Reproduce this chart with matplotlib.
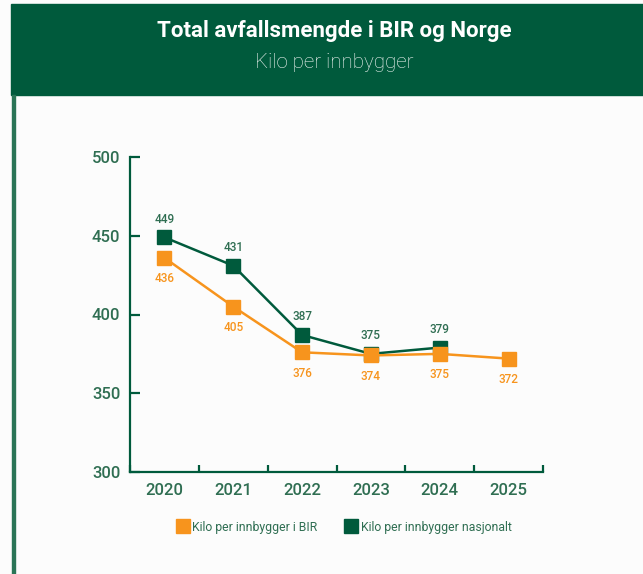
import matplotlib
matplotlib.use('Agg')
import matplotlib.pyplot as plt
from matplotlib.patches import Rectangle
from matplotlib.lines import Line2D

plt.rcParams['font.family'] = ['Roboto', 'DejaVu Sans']

years = ['2020', '2021', '2022', '2023', '2024', '2025']
bir = [436, 405, 376, 374, 375, 372]
norge = [449, 431, 387, 375, 379]
yticks = [300, 350, 400, 450, 500]

GREEN = '#005a3c'
ORANGE = '#f7941d'
TXT = '#2f6e52'

fig = plt.figure(figsize=(6.43, 5.74), dpi=100)
fig.patch.set_facecolor('#fcfcfc')

# header band and left border
fig.patches.append(Rectangle((11 / 643, 1 - 95 / 574), 1 - 11 / 643, 91 / 574,
                             transform=fig.transFigure, color=GREEN, zorder=0))
fig.patches.append(Rectangle((12 / 643, 0), 3 / 643, 1 - 95 / 574,
                             transform=fig.transFigure, color='#2a7456', zorder=0))
fig.text(334 / 643, 1 - 31 / 574, 'Total avfallsmengde i BIR og Norge', color='white',
         fontsize=16, fontweight='bold', ha='center', va='center')
fig.text(334 / 643, 1 - 62 / 574, 'Kilo per innbygger', color='#f2f6f4',
         fontsize=14.8, fontweight='light', ha='center', va='center')

ax = fig.add_axes([130 / 643, 1 - 472 / 574, 413 / 643, 315 / 574])
ax.set_facecolor('none')
x_bir = list(range(len(bir)))
x_norge = list(range(len(norge)))

ax.plot(x_norge, norge, color=GREEN, lw=1.8, marker='s', ms=10, mec=GREEN, mfc=GREEN,
        zorder=3)
ax.plot(x_bir, bir, color=ORANGE, lw=1.8, marker='s', ms=10, mec=ORANGE, mfc=ORANGE,
        zorder=4)

for i, v in enumerate(norge):
    ax.annotate(str(v), (i, v), xytext=(0, 13), textcoords='offset points',
                ha='center', va='center', fontsize=8.5, fontweight='medium', color=TXT)
for i, v in enumerate(bir):
    ax.annotate(str(v), (i, v), xytext=(0, -15), textcoords='offset points',
                ha='center', va='center', fontsize=8.5, fontweight='medium', color=ORANGE)

ax.set_xlim(-0.5, len(years) - 0.5)
ax.set_ylim(300, 500)
ax.set_yticks(yticks)
ax.set_xticks(x_bir)
ax.set_xticklabels(years)
ax.set_xticks([i - 0.5 for i in range(len(years) + 1)], minor=True)

for s in ['top', 'right']:
    ax.spines[s].set_visible(False)
for s in ['left', 'bottom']:
    ax.spines[s].set_color(GREEN)
    ax.spines[s].set_linewidth(1.6)

ax.tick_params(axis='y', direction='in', length=7, width=1.6, color=GREEN,
               labelcolor=TXT, labelsize=12, pad=7)
ax.tick_params(axis='x', which='major', length=0, labelcolor=TXT, labelsize=12, pad=8)
ax.tick_params(axis='x', which='minor', direction='in', length=5, width=1.6, color=GREEN)
for lab in ax.get_xticklabels() + ax.get_yticklabels():
    lab.set_fontweight('medium')

handles = [Line2D([], [], ls='none', marker='s', ms=10, color=ORANGE),
           Line2D([], [], ls='none', marker='s', ms=10, color=GREEN)]
fig.legend(handles, ['Kilo per innbygger i BIR', 'Kilo per innbygger nasjonalt'],
           loc='center', bbox_to_anchor=(344 / 643, 1 - 527 / 574), ncol=2, frameon=False,
           fontsize=8.8, labelcolor=TXT, handletextpad=0.3, columnspacing=2.2, handlelength=1)

fig.savefig('out.png', dpi=100, facecolor=fig.get_facecolor())
